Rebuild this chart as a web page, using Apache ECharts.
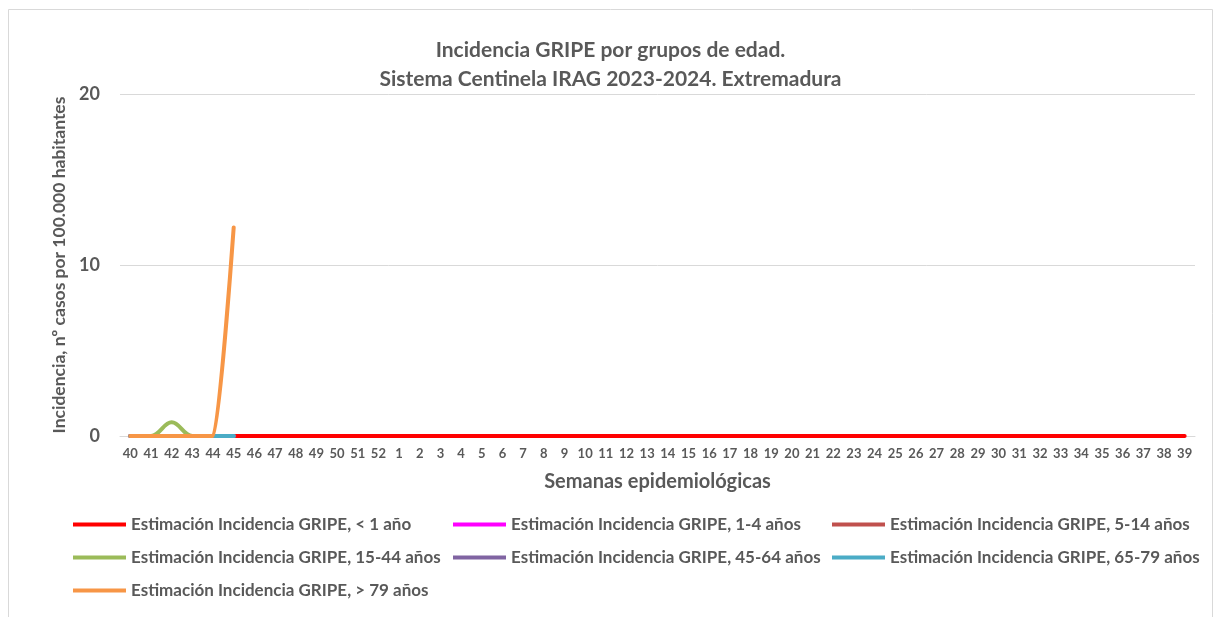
<!DOCTYPE html>
<html>
<head>
<meta charset="utf-8">
<script src="https://cdn.jsdelivr.net/npm/echarts@6/dist/echarts.min.js"></script>
<style>html,body{margin:0;padding:0;background:#fff}#c{width:1221px;height:617px}</style>
</head>
<body>
<div id="c"></div>
<script>
var weeks = ['40','41','42','43','44','45','46','47','48','49','50','51','52','1','2','3','4','5','6','7','8','9','10','11','12','13','14','15','16','17','18','19','20','21','22','23','24','25','26','27','28','29','30','31','32','33','34','35','36','37','38','39'];
var yTicks = [0, 10, 20];
var seriesNames = [
  'Estimación Incidencia GRIPE, < 1 año',
  'Estimación Incidencia GRIPE, 1-4 años',
  'Estimación Incidencia GRIPE, 5-14 años',
  'Estimación Incidencia GRIPE, 15-44 años',
  'Estimación Incidencia GRIPE, 45-64 años',
  'Estimación Incidencia GRIPE, 65-79 años',
  'Estimación Incidencia GRIPE, > 79 años'
];
var menor1 = [0,0,0,0,0,0,0,0,0,0,0,0,0,0,0,0,0,0,0,0,0,0,0,0,0,0,0,0,0,0,0,0,0,0,0,0,0,0,0,0,0,0,0,0,0,0,0,0,0,0,0,0];
var de1a4 = [0,0,0,0,0,0];
var de5a14 = [0,0,0,0,0,0];
var de15a44 = [0,0,0.8,0,0,0];
var de45a64 = [0,0,0,0,0,0];
var de65a79 = [0,0,0,0,0,0];
var mayor79 = [0,0,0,0,0,12.2];

var seriesData = [menor1, de1a4, de5a14, de15a44, de45a64, de65a79, mayor79];
var colors = ['#FF0000','#FF00FF','#C0504D','#9BBB59','#8064A2','#4BACC6','#F79646'];
var legendPos = [
  [73,516],[453,516],[832,516],
  [73,549],[453,549],[832,549],
  [73,582]
];
var txt = '#595959';
var ff = 'Lato, "Liberation Sans", sans-serif';

var chart = echarts.init(document.getElementById('c'), null, {renderer:'canvas'});
var legends = seriesNames.map(function(n, i){
  return {
    data: [n], left: legendPos[i][0], top: legendPos[i][1],
    itemWidth: 53, itemHeight: 4, itemGap: 0, padding: 0,
    icon: 'rect',
    textStyle: {color: txt, fontSize: 17, fontWeight: 'bold', fontFamily: ff}
  };
});
var series = seriesNames.map(function(n, i){
  return {
    name: n, type: 'line', data: seriesData[i], smooth: (i === 6 ? 0.15 : 0.4),
    smoothConstraint: i !== 6,
    showSymbol: false, symbol: 'none',
    lineStyle: {color: colors[i], width: 4, cap: 'round'},
    itemStyle: {color: colors[i]},
    z: 2 + i
  };
});
chart.setOption({
  backgroundColor: '#fff',
  animation: false,
  title: {
    text: 'Incidencia GRIPE por grupos de edad.\nSistema Centinela IRAG 2023-2024. Extremadura',
    left: 'center', top: 31,
    textStyle: {color: txt, fontSize: 21, fontWeight: 'bold', fontFamily: ff, lineHeight: 29}
  },
  graphic: [{type:'rect', shape:{x:8.5,y:9.5,width:1204,height:700}, style:{fill:'none', stroke:'#D9D9D9', lineWidth:1}, silent:true, z:-1}],
  legend: legends,
  grid: {left: 120, right: 26, top: 94, bottom: 181, containLabel: false},
  xAxis: {
    type: 'category', data: weeks, boundaryGap: true,
    name: 'Semanas epidemiológicas', nameLocation: 'middle', nameGap: 36,
    nameTextStyle: {color: txt, fontSize: 20, fontWeight: 'bold', fontFamily: ff},
    axisLine: {lineStyle: {color: '#D9D9D9', width: 1}},
    axisTick: {show: false},
    axisLabel: {color: txt, fontSize: 13, fontWeight: 'bold', fontFamily: ff, interval: 0, margin: 11}
  },
  yAxis: {
    type: 'value', min: yTicks[0], max: yTicks[yTicks.length-1], interval: 10,
    name: 'Incidencia, nº casos por 100.000 habitantes', nameLocation: 'middle', nameGap: 52,
    nameTextStyle: {color: txt, fontSize: 17.5, fontWeight: 'bold', fontFamily: ff},
    axisLine: {show: false}, axisTick: {show: false},
    axisLabel: {color: txt, fontSize: 18, fontWeight: 'bold', fontFamily: ff, margin: 20},
    splitLine: {lineStyle: {color: '#D9D9D9', width: 1}}
  },
  series: series
});
</script>
</body>
</html>
